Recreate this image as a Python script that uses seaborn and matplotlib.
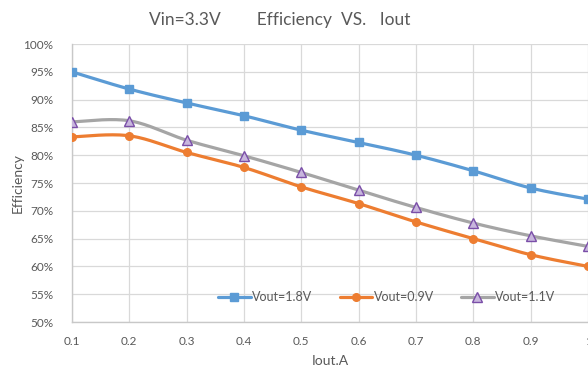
import numpy as np
import pandas as pd
import matplotlib
matplotlib.use("Agg")
import matplotlib.pyplot as plt
import seaborn as sns
from matplotlib.lines import Line2D
from matplotlib.ticker import FuncFormatter, MultipleLocator

iout = [0.1, 0.2, 0.3, 0.4, 0.5, 0.6, 0.7, 0.8, 0.9, 1.0]
eff_18 = [95.0, 91.9, 89.4, 87.1, 84.5, 82.3, 80.0, 77.2, 74.1, 72.1]
eff_09 = [83.3, 83.5, 80.5, 77.8, 74.3, 71.3, 68.0, 65.0, 62.1, 60.0]
eff_11 = [86.0, 86.2, 82.7, 79.9, 76.9, 73.7, 70.6, 67.8, 65.5, 63.6]
labels = ["Vout=1.8V", "Vout=0.9V", "Vout=1.1V"]

sns.set_theme(style="white")
plt.rcParams["font.family"] = ["Lato", "DejaVu Sans"]

TXT = "#595959"
GRID = "#d9d9d9"

def smooth(x, y, n=20):
    x = np.asarray(x, float); y = np.asarray(y, float)
    P = np.column_stack([x, y])
    Pp = np.vstack([P[0], P, P[-1]])
    out = []
    t = np.linspace(0, 1, n)[:, None]
    for i in range(len(P) - 1):
        p0, p3 = Pp[i + 1], Pp[i + 2]
        c1 = p0 + (Pp[i + 2] - Pp[i]) / 6
        c2 = p3 - (Pp[i + 3] - Pp[i + 1]) / 6
        seg = (1 - t) ** 3 * p0 + 3 * (1 - t) ** 2 * t * c1 + 3 * (1 - t) * t ** 2 * c2 + t ** 3 * p3
        out.append(seg if i == 0 else seg[1:])
    s = np.vstack(out)
    return s[:, 0], s[:, 1]

fig = plt.figure(figsize=(5.88, 3.67), dpi=100)
ax = fig.add_axes([0.1224, 0.1226, 0.8776, 0.7574])

series = [
    (eff_18, "#5B9BD5", "s", "#5B9BD5", "#5B9BD5", 5.5),
    (eff_09, "#ED7D31", "o", "#ED7D31", "#ED7D31", 5.5),
    (eff_11, "#A5A5A5", "^", "#c8b6dd", "#7a4ea8", 6.5),
]
handles = []
for (vals, col, mk, fc, ec, ms), lab in zip(series, labels):
    sx, sy = smooth(iout, vals)
    sns.lineplot(x=sx, y=sy, ax=ax, color=col, linewidth=2.3, sort=False,
                 legend=False, zorder=3)
    sns.lineplot(x=iout, y=vals, ax=ax, color=col, linestyle="", marker=mk,
                 markersize=ms, markerfacecolor=fc, markeredgecolor=ec,
                 markeredgewidth=1.0, legend=False, zorder=4)
    handles.append(Line2D([0], [0], color=col, lw=2.3, marker=mk, markersize=ms,
                          markerfacecolor=fc, markeredgecolor=ec, markeredgewidth=1.0))

ax.set_xlim(0.1, 1.0)
ax.set_ylim(50, 100)
ax.xaxis.set_major_locator(MultipleLocator(0.1))
ax.yaxis.set_major_locator(MultipleLocator(5))
ax.xaxis.set_major_formatter(FuncFormatter(lambda v, p: "1" if abs(v - 1) < 1e-6 else f"{v:.1f}"))
ax.yaxis.set_major_formatter(FuncFormatter(lambda v, p: f"{v:.0f}%"))
ax.grid(True, color=GRID, linewidth=0.9)
ax.set_axisbelow(True)
for s in ["top", "right"]:
    ax.spines[s].set_visible(False)
for s in ["left", "bottom"]:
    ax.spines[s].set_color("#c8c8c8")
    ax.spines[s].set_linewidth(1.0)
ax.tick_params(axis="x", length=0, labelsize=8.5, colors=TXT, pad=10)
ax.tick_params(axis="y", length=0, labelsize=8.5, colors=TXT, pad=13.5)
ax.set_xlabel("Iout.A", fontsize=10, color=TXT, labelpad=6)
ax.set_ylabel("Efficiency", fontsize=10, color=TXT)
ax.yaxis.set_label_coords(-0.093, 0.5)
fig.text(280 / 588, 1 - 20 / 367, "Vin=3.3V        Efficiency  VS.   Iout",
         fontsize=12.5, color=TXT, ha="center", va="center")

ax.legend(handles, labels, loc="center", bbox_to_anchor=(0.61, 0.09), ncol=3,
          frameon=False, fontsize=9, labelcolor=TXT, handlelength=2.6,
          handletextpad=0.1, columnspacing=2.2)

fig.savefig("out.png", dpi=100)
